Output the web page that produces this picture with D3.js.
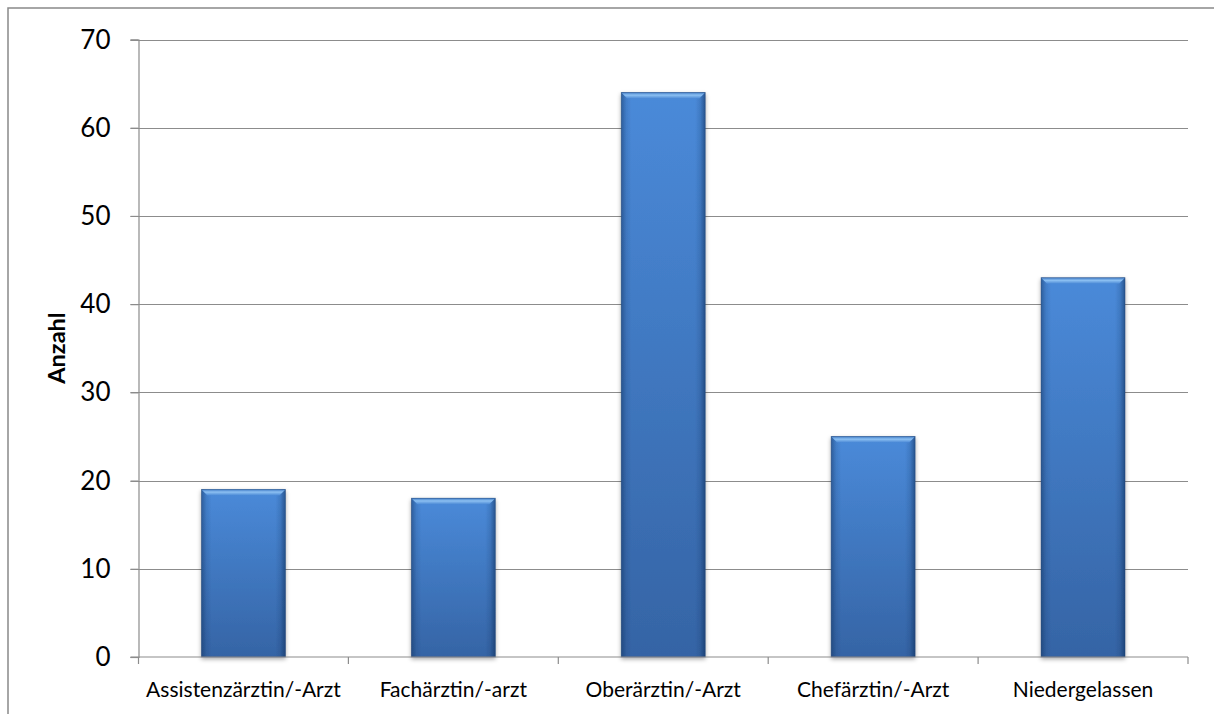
<!DOCTYPE html>
<html>
<head>
<meta charset="utf-8">
<script src="https://cdn.jsdelivr.net/npm/d3@7"></script>
<style>
  html, body { margin: 0; padding: 0; background: #fff; }
  svg { display: block; }
  text { font-family: Lato, "Open Sans", sans-serif; fill: #000; }
</style>
</head>
<body>
<script>
// Anzahl der Antwortenden nach beruflicher Position
const categories = ["Assistenzärztin/-Arzt", "Fachärztin/-arzt", "Oberärztin/-Arzt", "Chefärztin/-Arzt", "Niedergelassen"];
const counts = [19, 18, 64, 25, 43];
const yTicks = [0, 10, 20, 30, 40, 50, 60, 70];
const yTitle = "Anzahl";

const W = 1214, H = 714;
const margin = { left: 138.5, right: 26, top: 39.5, bottom: 57 };

const svg = d3.select("body").append("svg").attr("width", W).attr("height", H);
const defs = svg.append("defs");

// vertical body gradient
const gBody = defs.append("linearGradient").attr("id", "barBody")
  .attr("x1", 0).attr("y1", 0).attr("x2", 0).attr("y2", 1);
gBody.append("stop").attr("offset", "0%").attr("stop-color", "#4a8ad9");
gBody.append("stop").attr("offset", "100%").attr("stop-color", "#3564a5");

// side shading
const gSide = defs.append("linearGradient").attr("id", "barSide")
  .attr("x1", 0).attr("y1", 0).attr("x2", 1).attr("y2", 0);
gSide.append("stop").attr("offset", "0%").attr("stop-color", "#0b2a55").attr("stop-opacity", 0.45);
gSide.append("stop").attr("offset", "6%").attr("stop-color", "#0b2a55").attr("stop-opacity", 0.12);
gSide.append("stop").attr("offset", "12%").attr("stop-color", "#0b2a55").attr("stop-opacity", 0);
gSide.append("stop").attr("offset", "88%").attr("stop-color", "#0b2a55").attr("stop-opacity", 0);
gSide.append("stop").attr("offset", "94%").attr("stop-color", "#0b2a55").attr("stop-opacity", 0.15);
gSide.append("stop").attr("offset", "100%").attr("stop-color", "#0b2a55").attr("stop-opacity", 0.55);

// top bevel
const gTop = defs.append("linearGradient").attr("id", "barTop")
  .attr("x1", 0).attr("y1", 0).attr("x2", 0).attr("y2", 1);
gTop.append("stop").attr("offset", "0%").attr("stop-color", "#3f7bc6");
gTop.append("stop").attr("offset", "45%").attr("stop-color", "#8cc0f2");
gTop.append("stop").attr("offset", "100%").attr("stop-color", "#4c8ad6");

const shadow = defs.append("filter").attr("id", "shadow")
  .attr("x", "-10%").attr("y", "-5%").attr("width", "120%").attr("height", "115%");
shadow.append("feDropShadow").attr("dx", 0).attr("dy", 2).attr("stdDeviation", 2)
  .attr("flood-color", "#000").attr("flood-opacity", 0.35);

// outer chart frame (extends beyond view right/bottom)
svg.append("rect").attr("x", 8).attr("y", 8).attr("width", W + 20).attr("height", H + 20)
  .attr("fill", "none").attr("stroke", "#898989").attr("stroke-width", 1.5);

const x = d3.scaleBand().domain(categories)
  .range([margin.left, W - margin.right]).paddingInner(0.6).paddingOuter(0.3);
const xEdges = d3.scaleLinear().domain([0, categories.length])
  .range([margin.left, W - margin.right]);
const y = d3.scaleLinear().domain([0, 70]).range([H - margin.bottom, margin.top]);

// gridlines
svg.append("g").selectAll("line").data(yTicks.filter(d => d > 0)).join("line")
  .attr("x1", margin.left - 8).attr("x2", W - margin.right)
  .attr("y1", d => Math.round(y(d)) + 0.5).attr("y2", d => Math.round(y(d)) + 0.5)
  .attr("stroke", "#8c8c8c").attr("stroke-width", 1.2);

// bars
const bars = svg.append("g").selectAll("g").data(counts).join("g")
  .attr("filter", "url(#shadow)");
bars.append("rect")
  .attr("x", (d, i) => x(categories[i])).attr("y", d => y(d))
  .attr("width", x.bandwidth()).attr("height", d => y(0) - y(d))
  .attr("fill", "url(#barBody)");
bars.append("rect")
  .attr("x", (d, i) => x(categories[i])).attr("y", d => y(d))
  .attr("width", x.bandwidth()).attr("height", d => y(0) - y(d))
  .attr("fill", "url(#barSide)");
bars.append("path")
  .attr("d", (d, i) => {
    const x0 = x(categories[i]), x1 = x0 + x.bandwidth(), t = y(d), b = 6;
    return `M${x0},${t}L${x1},${t}L${x1 - b},${t + b}L${x0 + b},${t + b}Z`;
  })
  .attr("fill", "url(#barTop)");
bars.append("rect")
  .attr("x", (d, i) => x(categories[i])).attr("y", d => y(d))
  .attr("width", x.bandwidth()).attr("height", d => y(0) - y(d))
  .attr("fill", "none").attr("stroke", "#1f3f6e").attr("stroke-opacity", 0.5).attr("stroke-width", 0.8);

// y axis
const yAxis = svg.append("g").attr("transform", `translate(${margin.left},0)`)
  .call(d3.axisLeft(y).tickValues(yTicks).tickSize(8).tickPadding(20).tickFormat(d3.format("d")));
yAxis.attr("font-size", null).attr("font-family", null);
yAxis.select(".domain").attr("stroke", "#8c8c8c").attr("stroke-width", 1.2);
yAxis.selectAll(".tick line").attr("stroke", "#8c8c8c").attr("stroke-width", 1.2);
yAxis.selectAll(".tick text").attr("font-size", 26).attr("dy", "0.33em");

// x axis baseline and category separators
const xa = svg.append("g");
xa.append("line").attr("x1", margin.left - 8).attr("x2", W - margin.right)
  .attr("y1", y(0)).attr("y2", y(0)).attr("stroke", "#8c8c8c").attr("stroke-width", 1.2);
xa.selectAll("line.sep").data(d3.range(categories.length + 1)).join("line")
  .attr("class", "sep")
  .attr("x1", d => xEdges(d)).attr("x2", d => xEdges(d))
  .attr("y1", y(0)).attr("y2", y(0) + 7)
  .attr("stroke", "#8c8c8c").attr("stroke-width", 1.2);
xa.selectAll("text").data(categories).join("text")
  .attr("x", d => x(d) + x.bandwidth() / 2).attr("y", y(0) + 40)
  .attr("text-anchor", "middle").attr("font-size", 21).text(d => d);

// y title
svg.append("text")
  .attr("transform", `translate(65,348) rotate(-90)`)
  .attr("text-anchor", "middle").attr("font-size", 23.5).attr("font-weight", "bold")
  .text(yTitle);
</script>
</body>
</html>
